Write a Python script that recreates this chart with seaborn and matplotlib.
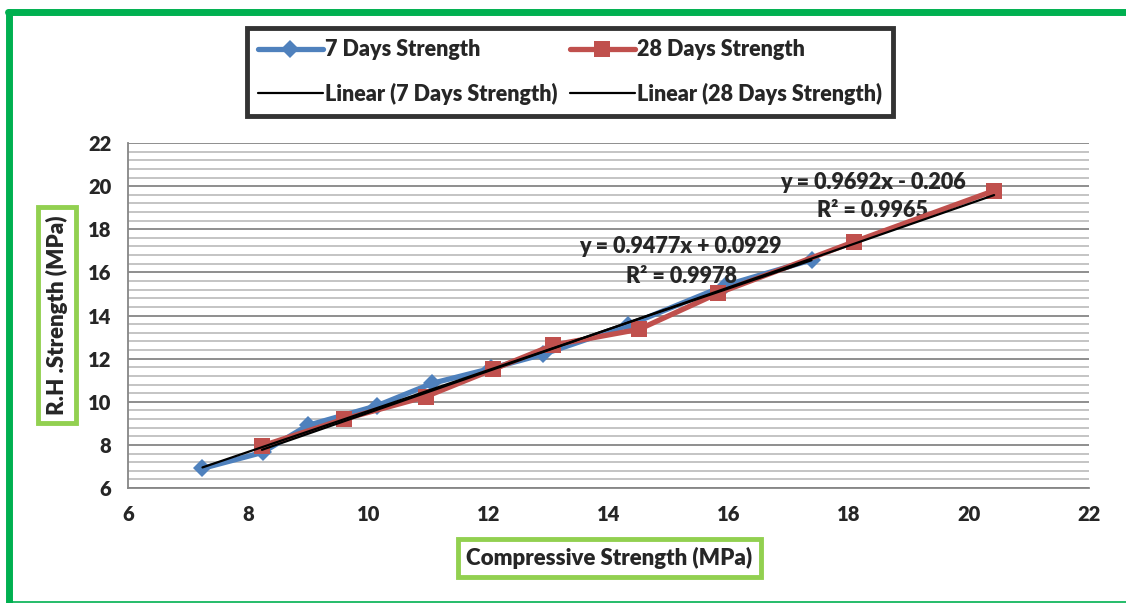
import numpy as np
import pandas as pd
import matplotlib
matplotlib.use("Agg")
import matplotlib.pyplot as plt
from matplotlib.lines import Line2D
from matplotlib.ticker import MultipleLocator
import seaborn as sns

# data
x7 = [7.24, 8.24, 8.99, 10.15, 11.06, 12.05, 12.91, 14.33, 15.95, 17.38]
y7 = [6.91, 7.65, 8.90, 9.82, 10.85, 11.55, 12.20, 13.55, 15.40, 16.58]
x28 = [8.23, 9.60, 10.96, 12.08, 13.08, 14.51, 15.82, 18.09, 20.42]
y28 = [7.95, 9.20, 10.24, 11.50, 12.63, 13.36, 15.03, 17.42, 19.79]

# trendline coefficients as printed on the chart
slope7, icpt7, r2_7 = 0.9477, 0.0929, 0.9978
slope28, icpt28, r2_28 = 0.9692, -0.206, 0.9965

x_ticks = [6, 8, 10, 12, 14, 16, 18, 20, 22]
y_ticks = [6, 8, 10, 12, 14, 16, 18, 20, 22]

sns.set_style("white")
plt.rcParams['font.family'] = ['Lato', 'DejaVu Sans']
W = 'heavy'
plt.rcParams['font.weight'] = W

blue = '#4F81BD'
red = '#C0504D'
green = '#00B050'
lgreen = '#92D050'
grey = '#868686'

fig = plt.figure(figsize=(11.26, 6.03), dpi=100)
ax = fig.add_axes([128/1126, 1-488/603, (1089-128)/1126, (488-143)/603])

df7 = pd.DataFrame({'x': x7, 'y': y7})
df28 = pd.DataFrame({'x': x28, 'y': y28})
sns.lineplot(data=df7, x='x', y='y', ax=ax, color=blue, lw=3.8, marker='D',
             markersize=9, markeredgewidth=0, label='7 Days Strength', zorder=3)
sns.lineplot(data=df28, x='x', y='y', ax=ax, color=red, lw=3.8, marker='s',
             markersize=12, markeredgewidth=0, label='28 Days Strength', zorder=4)

t7 = np.array([min(x7), max(x7)])
t28 = np.array([min(x28), max(x28)])
sns.lineplot(x=t7, y=slope7*t7 + icpt7, ax=ax, color='black', lw=1.6,
             label='Linear (7 Days Strength)', zorder=5)
sns.lineplot(x=t28, y=slope28*t28 + icpt28, ax=ax, color='black', lw=1.6,
             label='Linear (28 Days Strength)', zorder=5)

ax.set_xlim(6, 22)
ax.set_ylim(6, 22)
ax.set_xticks(x_ticks)
ax.set_yticks(y_ticks)
ax.yaxis.set_minor_locator(MultipleLocator(0.4))
ax.set_axisbelow(True)
ax.grid(which='major', axis='y', color=grey, lw=1.3)
ax.grid(which='minor', axis='y', color='#BFBFBF', lw=1.3)
ax.tick_params(which='minor', length=0)
ax.tick_params(which='major', direction='out', length=6, width=1.3, color=grey,
               labelsize=14.5, pad=6)
for lab in ax.get_xticklabels() + ax.get_yticklabels():
    lab.set_fontweight(W)
for s in ['top', 'right']:
    ax.spines[s].set_visible(False)
for s in ['left', 'bottom']:
    ax.spines[s].set_color(grey)
    ax.spines[s].set_linewidth(1.3)

box = dict(boxstyle='square,pad=0.38', fc='white', ec=lgreen, lw=3.5)
ax.set_xlabel('Compressive Strength (MPa)', fontsize=16, fontweight=W, bbox=box, va='center')
ax.set_ylabel('R.H .Strength (MPa)', fontsize=16, fontweight=W, bbox=box, va='center')
ax.xaxis.set_label_coords(0.501, -(558-488)/345)
ax.yaxis.set_label_coords((57-128)/961, 0.501)

# trendline equations
fs = 15.5
ax.text(15.19, 17.22, f'y = {slope7}x + {icpt7}', ha='center', va='center', fontsize=fs, fontweight=W)
ax.text(15.22, 15.79, f'R² = {r2_7}', ha='center', va='center', fontsize=fs, fontweight=W)
ax.text(18.4, 20.15, f'y = {slope28}x - {abs(icpt28)}', ha='center', va='center', fontsize=fs, fontweight=W)
ax.text(18.4, 18.85, f'R² = {r2_28}', ha='center', va='center', fontsize=fs, fontweight=W)

# legend, two rows on top
h, l = ax.get_legend_handles_labels()
ax.get_legend().remove()
order = [0, 2, 1, 3]
leg = fig.legend([h[i] for i in order], [l[i] for i in order], ncol=2, loc='center',
                 bbox_to_anchor=(570/1126, 1-72/603), frameon=True, fancybox=False,
                 edgecolor='black', prop={'weight': W, 'size': 15.5},
                 handlelength=3.0, handletextpad=0.1, columnspacing=0.6,
                 labelspacing=1.05, borderpad=0.5)
leg.get_frame().set_linewidth(3.5)

# green outer frame
fig.add_artist(Line2D([8/1126, 1], [1-12/603]*2, transform=fig.transFigure, color=green, lw=5))
fig.add_artist(Line2D([9/1126]*2, [0, 1-12/603], transform=fig.transFigure, color=green, lw=5))
fig.add_artist(Line2D([9/1126, 1], [1/603]*2, transform=fig.transFigure, color=green, lw=1.2))

fig.savefig('out.png', dpi=100)
